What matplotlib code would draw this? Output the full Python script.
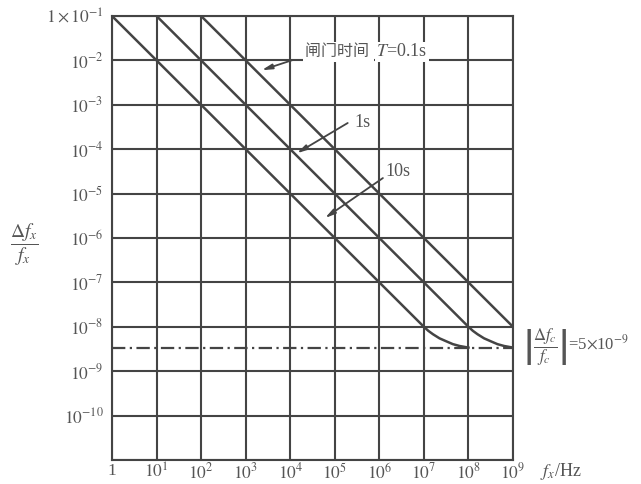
import matplotlib.pyplot as plt
import numpy as np

plt.rcParams['mathtext.fontset'] = 'stix'
plt.rcParams['font.family'] = ['Liberation Serif', 'DejaVu Serif']

# Dados
x_ticks = [1, 1e1, 1e2, 1e3, 1e4, 1e5, 1e6, 1e7, 1e8, 1e9]
x_labels = ['1'] + [r'$10^{%d}$' % i for i in range(1, 10)]
y_ticks = [1e-1, 1e-2, 1e-3, 1e-4, 1e-5, 1e-6, 1e-7, 1e-8, 1e-9, 1e-10, 1e-11]
y_labels = [r'$1\times10^{-1}$'] + [r'$10^{-%d}$' % i for i in range(2, 11)] + ['']

# T = 0.1 s
f_01s = [1e2, 1e9]
y_01s = [1e-1, 1e-8]
# T = 1 s
f_1s = [1e1, 1e8, 1.26e8, 1.6e8, 2.24e8, 3.2e8, 4.47e8, 6.3e8, 1e9]
y_1s = [1e-1, 1e-8, 8.1e-9, 6.8e-9, 5.5e-9, 4.7e-9, 4.07e-9, 3.7e-9, 3.4e-9]
# T = 10 s
f_10s = [1, 1e7, 1.26e7, 1.6e7, 2.24e7, 3.2e7, 4.47e7, 6.3e7, 1e8]
y_10s = [1e-1, 1e-8, 8.1e-9, 6.8e-9, 5.5e-9, 4.7e-9, 4.07e-9, 3.7e-9, 3.4e-9]
# erro do oscilador
f_floor = [1, 1e9]
y_floor = [3.4e-9, 3.4e-9]

cor = '#444444'
cor_txt = '#555555'

fig = plt.figure(figsize=(6.41, 4.84), dpi=100)
ax = fig.add_axes([112/641, 1-460/484, 401/641, 444/484])
ax.set_xscale('log')
ax.set_yscale('log')
ax.set_xlim(1, 1e9)
ax.set_ylim(1e-11, 1e-1)

ax.set_xticks(x_ticks)
ax.set_xticklabels(x_labels)
ax.set_yticks(y_ticks)
ax.set_yticklabels(y_labels)
ax.minorticks_off()
ax.tick_params(length=0, labelsize=12.5, labelcolor=cor_txt)
ax.tick_params(axis='x', pad=2)
ax.tick_params(axis='y', pad=6)
ax.grid(True, color=cor, linewidth=1.5)
for s in ax.spines.values():
    s.set_color(cor)
    s.set_linewidth(1.5)

ax.plot(f_01s, y_01s, color=cor, lw=1.8)
ax.plot(f_1s, y_1s, color=cor, lw=1.8)
ax.plot(f_10s, y_10s, color=cor, lw=1.8)
ax.plot(f_floor, y_floor, color=cor, lw=1.6, linestyle=(0, (6, 2, 1, 2)))

seta = dict(arrowstyle='-|>,head_length=0.6,head_width=0.15', color=cor, lw=1.3,
            shrinkA=0, shrinkB=0)
ax.annotate('', xy=(10**3.36, 10**-2.22), xytext=(10**4.06, 10**-1.99), arrowprops=seta)
ax.annotate('', xy=(10**4.15, 10**-4.09), xytext=(10**5.29, 10**-3.41), arrowprops=seta)
ax.annotate('', xy=(10**4.78, 10**-5.55), xytext=(10**6.08, 10**-4.65), arrowprops=seta)

fundo = dict(facecolor='white', edgecolor='none', pad=1)
ax.text(10**4.33, 10**-1.81, '闸门时间 ', family=['Noto Sans CJK SC', 'DejaVu Sans'],
        fontsize=11.5, color=cor_txt, va='center', ha='left', bbox=fundo)
ax.text(10**5.93, 10**-1.81, r'$T$=0.1s', fontsize=13, color=cor_txt,
        va='center', ha='left', bbox=fundo)
ax.text(10**5.45, 10**-3.39, '1s', fontsize=13, color=cor_txt, va='center',
        ha='left', bbox=fundo)
ax.text(10**6.14, 10**-4.51, '10s', fontsize=13, color=cor_txt, va='center',
        ha='left', bbox=fundo)

fig.text(24/641, 1-245/484, r'$\dfrac{\Delta f_x}{f_x}$', fontsize=14, color=cor_txt,
         ha='center', va='center')
fig.text(523/641, 1-347/484, r'$\left|\dfrac{\Delta f_c}{f_c}\right|$=5$\times$10$^{-9}$',
         fontsize=12, color=cor_txt, ha='left', va='center')
fig.text(540/641, 1-472/484, r'$f_x$/Hz', fontsize=13, color=cor_txt,
         ha='left', va='center')

plt.savefig('out.png', dpi=100)
